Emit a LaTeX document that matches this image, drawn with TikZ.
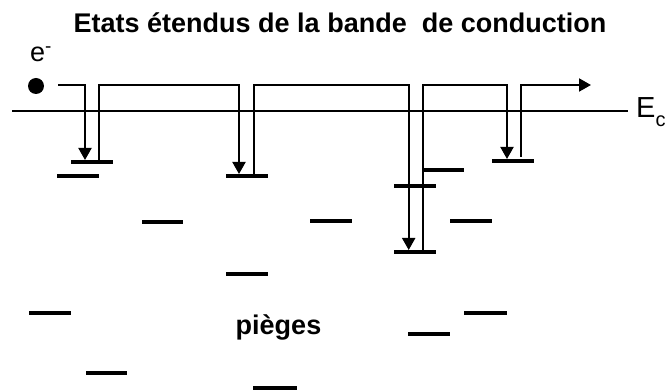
\documentclass[tikz,border=0pt]{standalone}
\usepackage{fontspec}
\setmainfont{Liberation Sans}
\usetikzlibrary{arrows.meta}

\tikzset{
  level/.style={line width=3.5pt, line cap=butt},
  jump/.style={line width=2pt, line join=miter},
  fall/.style={jump, -{Triangle[length=12pt,width=13pt]}},
  edge/.style={line width=2.5pt},
  lbl/.style={inner sep=0pt, font=\fontsize{27}{31}\selectfont},
  boldlbl/.style={lbl, font=\fontsize{27}{31}\selectfont\bfseries}
}

\begin{document}
\begin{tikzpicture}[x=1pt,y=-1pt]
  \useasboundingbox (0,0) rectangle (665,390);

  % title
  \node[boldlbl, anchor=base] (title) at (340,33)
    {Etats étendus de la bande\ \ de conduction};

  % electron
  \node[lbl, anchor=base west] (elabel) at (30,62) {e\textsuperscript{-}};
  \fill (36,86) circle (8);
  \coordinate (start) at (58,85);

  % conduction band edge
  \coordinate (ecl) at (12,111);
  \coordinate (ecr) at (628,111);
  \draw[edge] (ecl) -- (ecr);
  \node[lbl, font=\fontsize{29}{32}\selectfont, anchor=base west] (ec) at (636,118)
    {E\raisebox{-0.3em}{\fontsize{20}{20}\selectfont c}};

  % trap levels
  \foreach \xa/\xb/\y in {
      71/113/162, 57/99/176, 226/268/176, 142/183/222, 310/352/221,
      450/492/221, 394/436/186, 423/464/170, 394/436/252, 492/534/161,
      226/268/274, 29/71/313, 464/507/313, 408/450/334, 86/127/373,
      253/297/388}
    \draw[level] (\xa,\y) -- (\xb,\y);

  \node[boldlbl, anchor=base] (traps) at (278.5,335) {pièges};

  % trajectory: capture / release sequence
  \coordinate (c1) at (85,160);  \coordinate (r1) at (99,162);
  \coordinate (c2) at (239,174); \coordinate (r2) at (254,176);
  \coordinate (c3) at (408.7,250); \coordinate (r3) at (422.7,252);
  \coordinate (c4) at (507,159); \coordinate (r4) at (521,157);
  \coordinate (out) at (591,85);

  \draw[fall] (start) -| (c1);
  \draw[fall] (r1) |- (c2 |- start) -- (c2);
  \draw[fall] (r2) |- (c3 |- start) -- (c3);
  \draw[fall] (r3) |- (c4 |- start) -- (c4);
  \draw[fall] (r4) |- (out);
\end{tikzpicture}
\end{document}
